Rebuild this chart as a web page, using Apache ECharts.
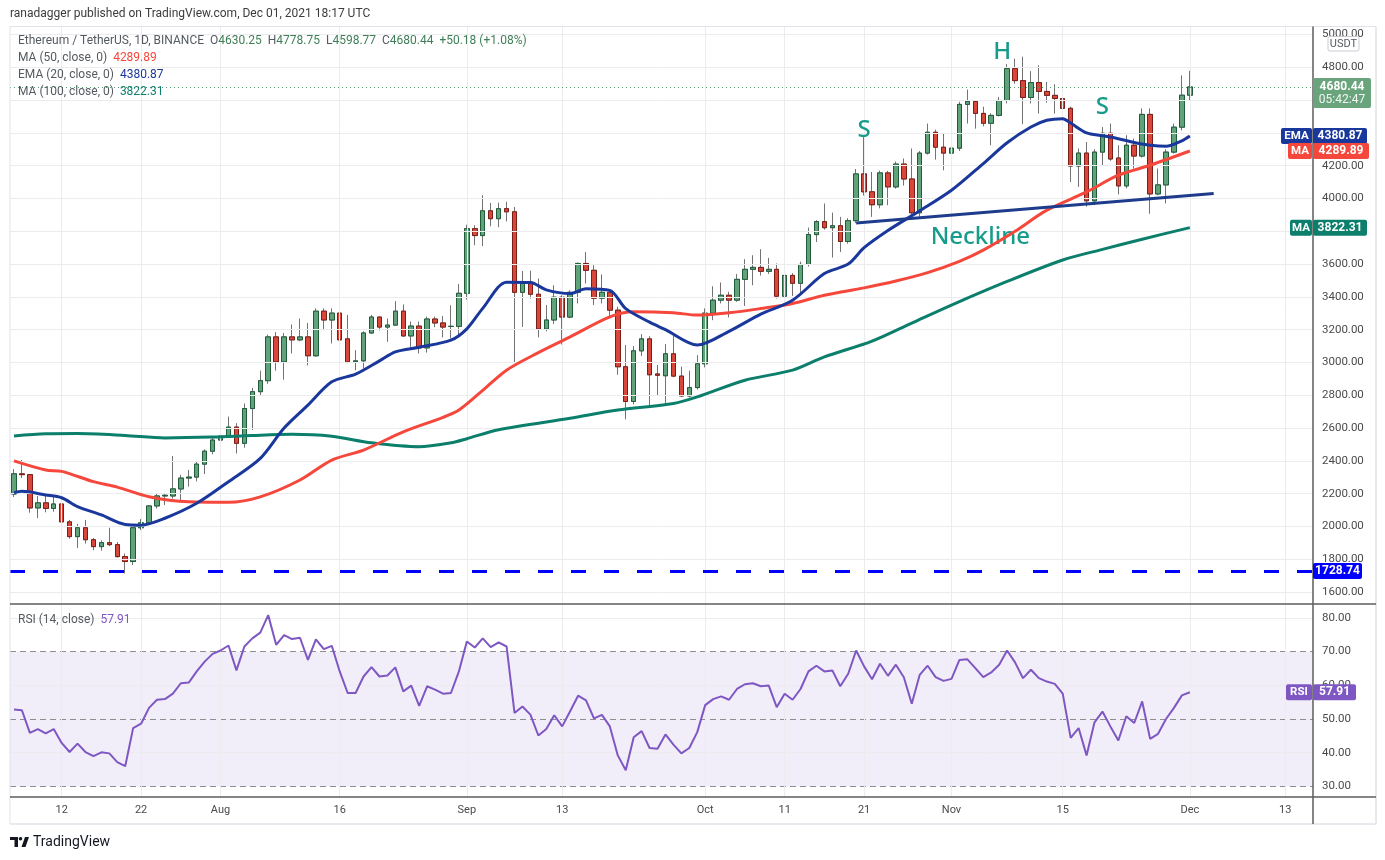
<!DOCTYPE html>
<html><head><meta charset="utf-8">
<script src="https://cdn.jsdelivr.net/npm/echarts@6.0.0/dist/echarts.min.js"></script>
<style>html,body{margin:0;padding:0;background:#fff}#c{width:1385px;height:860px}</style>
</head><body><div id="c"></div>
<script>
// ---------- DATA ----------
const firstDate = [2021, 6, 6];   // 2021-07-06
const lastAxisDate = [2021, 11, 16]; // 2021-12-16
const opens = [
2198,2321,2316,2113,2144,2110,2137,2028,1938,1992,1919,1877,1901,1889,1816,1786,1992,2022,2125,2186,2186,2229,2295,2301,2380,2459,
2527,2551,2606,2507,2719,2822,2889,3156,3004,3156,3138,3156,3041,3313,3259,3301,3144,3004,3010,3180,3277,3216,3228,3313,3162,3222,3089,3265,3241,3220,3220,
3422,3816,3774,3925,3877,3938,3919,3428,3489,3416,3204,3259,3398,3277,3428,3604,3562,3392,3428,3319,2974,2762,3071,3144,2930,2919,3053,2917,2796,2847,
2992,3301,3380,3410,3380,3507,3568,3580,3556,3568,3404,3531,3483,3598,3780,3859,3822,3834,3738,3865,4150,4041,3962,4156,4071,4210,4119,3913,4277,4404,4313,
4277,4307,4574,4592,4519,4459,4507,4598,4792,4719,4616,4707,4653,4629,4610,4550,4198,4277,3986,4283,4398,4247,4077,4325,4259,4513,4028,4083,4283,4435,
4630.25];
const highs = [
2350,2405,2320,2185,2195,2180,2170,2040,2015,2040,1930,1915,1992,1905,1835,2015,2045,2130,2200,2200,2430,2315,2345,2400,2470,2550,
2700,2670,2630,2750,2845,2950,3170,3185,3180,3232,3268,3241,3330,3330,3330,3340,3290,3075,3190,3290,3280,3268,3374,3354,3250,3250,3280,3280,3283,3349,3478,
3840,3837,4020,3973,3975,3980,3949,3558,3560,3512,3350,3471,3410,3440,3610,3674,3593,3537,3445,3340,3106,3100,3173,3160,2985,3112,3161,2974,2950,3045,
3330,3465,3488,3431,3540,3630,3654,3691,3638,3604,3624,3545,3615,3823,3868,3970,3914,3888,3880,4180,4375,4162,4170,4168,4225,4244,4305,4290,4457,4420,4396,
4375,4590,4664,4600,4560,4520,4620,4820,4853,4865,4777,4812,4711,4697,4772,4560,4305,4345,4300,4436,4457,4325,4386,4365,4549,4549,4183,4300,4457,4751,
4778.75];
const lows = [
2180,2295,2084,2051,2086,2090,2010,1925,1868,1895,1855,1852,1880,1810,1713,1765,1978,2015,2110,2130,2170,2150,2243,2275,2320,2440,
2513,2540,2445,2480,2588,2800,2870,2950,2895,3055,3130,2982,3035,3197,3116,3130,2995,2953,2964,3175,3195,3126,3225,3155,3086,3055,3060,3215,3153,3146,3160,
3384,3715,3710,3831,3825,3860,3002,3217,3390,3153,3190,3235,3110,3270,3360,3482,3350,3360,3278,2925,2653,2745,3039,2734,2800,2740,2910,2790,2787,2835,
2970,3258,3360,3275,3370,3345,3471,3530,3540,3390,3380,3406,3420,3585,3735,3810,3640,3674,3725,3850,4018,3888,3940,3959,4060,4079,3900,3890,4268,4237,4172,
4152,4290,4457,4426,4440,4325,4500,4580,4700,4453,4580,4518,4585,4518,4545,4101,4071,3950,3960,4203,4230,4025,4061,4182,4250,3907,4020,3970,4274,4415,
4598.77];
const closes = [
2321,2316,2113,2144,2110,2137,2028,1938,1992,1919,1877,1901,1889,1816,1786,1992,2022,2125,2186,2190,2229,2295,2301,2380,2459,2527,
2551,2606,2507,2719,2822,2889,3156,3004,3156,3138,3156,3041,3313,3259,3301,3138,3004,3010,3180,3277,3216,3228,3313,3162,3222,3089,3265,3241,3216,3220,3422,
3816,3774,3925,3877,3938,3919,3428,3489,3416,3204,3259,3398,3277,3428,3604,3562,3392,3428,3319,2974,2762,3071,3144,2925,2922,3053,2917,2796,2847,2992,
3301,3380,3410,3380,3507,3568,3580,3556,3568,3404,3531,3483,3598,3780,3859,3822,3834,3738,3865,4150,4041,3962,4156,4071,4210,4119,3913,4277,4404,4313,4277,
4307,4574,4592,4519,4459,4507,4598,4792,4719,4616,4707,4653,4629,4610,4550,4198,4277,3986,4283,4398,4241,4077,4325,4259,4513,4028,4083,4283,4435,4630,
4680.44];
const rsiValues = [
52.8,52.6,45.9,47.0,45.7,47.0,42.9,40.2,42.7,40.2,39.0,40.1,39.8,37.2,36.0,47.3,48.6,53.3,55.7,55.9,57.5,60.6,60.8,64.1,67.0,69.3,
70.3,71.8,64.4,71.5,73.9,75.6,80.8,72.0,74.9,73.7,74.1,67.5,73.6,70.7,71.7,64.1,57.7,57.7,62.6,65.4,62.6,62.9,65.3,58.2,59.9,53.9,59.7,58.7,57.5,57.7,64.1,
73.0,71.2,73.9,71.3,72.7,71.5,51.8,53.7,51.3,45.1,47.0,51.1,47.8,52.3,56.9,55.5,50.2,51.2,47.8,39.2,34.8,44.6,46.4,41.4,41.2,45.4,42.4,39.8,41.4,46.1,
54.1,55.9,56.7,55.7,58.9,60.3,60.6,59.7,59.9,53.5,57.5,55.7,58.9,64.1,65.8,64.1,64.4,59.7,63.4,70.3,65.6,61.8,66.4,62.8,66.1,62.4,54.5,63.1,65.8,62.4,61.3,
61.9,67.5,67.7,65.1,62.4,63.8,66.1,70.3,66.8,62.1,64.6,62.1,61.1,60.4,57.5,44.4,47.3,39.2,49.0,52.2,47.8,43.6,50.8,48.8,55.2,44.1,45.6,50.0,53.3,57.0,
57.91];
const ema20Pts = [['2021-07-06',2205],['2021-07-07',2214],['2021-07-10',2192],['2021-07-12',2175],['2021-07-14',2121],['2021-07-17',2070],['2021-07-20',2012],['2021-07-22',2008],['2021-07-25',2050],['2021-07-29',2141],['2021-08-02',2273],['2021-08-06',2415],['2021-08-09',2600],['2021-08-12',2740],['2021-08-15',2882],['2021-08-18',2929],['2021-08-21',3010],['2021-08-23',3065],['2021-08-26',3093],['2021-08-30',3136],['2021-09-01',3205],['2021-09-03',3330],['2021-09-06',3490],['2021-09-09',3488],['2021-09-11',3443],['2021-09-14',3420],['2021-09-16',3450],['2021-09-19',3440],['2021-09-21',3328],['2021-09-24',3246],['2021-09-26',3200],['2021-09-30',3106],['2021-10-04',3190],['2021-10-08',3295],['2021-10-12',3380],['2021-10-16',3542],['2021-10-19',3600],['2021-10-21',3700],['2021-10-24',3805],['2021-10-28',3925],['2021-11-01',4050],['2021-11-05',4213],['2021-11-08',4340],['2021-11-11',4436],['2021-11-13',4477],['2021-11-15',4487],['2021-11-16',4460],['2021-11-18',4400],['2021-11-20',4383],['2021-11-22',4365],['2021-11-24',4342],['2021-11-26',4325],['2021-11-28',4318],['2021-11-30',4352],['2021-12-01',4380.87]];
const ma50Pts = [['2021-07-06',2400],['2021-07-10',2344],['2021-07-12',2336],['2021-07-16',2273],['2021-07-19',2240],['2021-07-23',2181],['2021-07-28',2150],['2021-08-02',2147],['2021-08-06',2180],['2021-08-11',2283],['2021-08-15',2405],['2021-08-19',2466],['2021-08-24',2577],['2021-08-29',2665],['2021-08-31',2710],['2021-09-03',2830],['2021-09-06',2953],['2021-09-10',3060],['2021-09-14',3156],['2021-09-19',3278],['2021-09-22',3309],['2021-09-27',3303],['2021-09-30',3289],['2021-10-04',3303],['2021-10-08',3329],['2021-10-12',3360],['2021-10-16',3410],['2021-10-21',3455],['2021-10-25',3497],['2021-10-29',3548],['2021-11-02',3617],['2021-11-05',3685],['2021-11-09',3800],['2021-11-13',3929],['2021-11-18',4040],['2021-11-22',4142],['2021-11-26',4203],['2021-12-01',4289.89]];
const ma100Pts = [['2021-07-06',2552],['2021-07-10',2565],['2021-07-14',2567],['2021-07-20',2555],['2021-07-25',2540],['2021-07-31',2545],['2021-08-05',2555],['2021-08-10',2562],['2021-08-15',2550],['2021-08-20',2510],['2021-08-26',2486],['2021-08-30',2510],['2021-09-01',2535],['2021-09-05',2590],['2021-09-14',2660],['2021-09-20',2710],['2021-09-27',2750],['2021-09-30',2790],['2021-10-06',2892],['2021-10-12',2953],['2021-10-16',3034],['2021-10-22',3130],['2021-10-27',3240],['2021-11-01',3350],['2021-11-08',3494],['2021-11-15',3625],['2021-11-20',3690],['2021-11-25',3752],['2021-12-01',3822.31]];
const necklinePts = [['2021-10-20',3851],['2021-12-04',4030]];
const supportLevel = 1728.74;
const lastPrice = 4680.44;
const lastEma = 4380.87, lastMa50 = 4289.89, lastMa100 = 3822.31, lastRsi = 57.91;
const tickDates = ['2021-07-12','2021-07-22','2021-08-01','2021-08-16','2021-09-01','2021-09-13','2021-10-01','2021-10-11','2021-10-21','2021-11-01','2021-11-15','2021-12-01','2021-12-13'];
const tickLabels = ['12','22','Aug','16','Sep','13','Oct','11','21','Nov','15','Dec','13'];
const priceTicks = [1600,1800,2000,2200,2400,2600,2800,3000,3200,3400,3600,3800,4000,4200,4400,4600,4800,5000];
const rsiTicks = [30,40,50,60,70,80];
const rsiDashed = [30,50,70];
const annotations = [
  {date:'2021-10-21', price:4418, text:'S', dx:0},
  {date:'2021-11-07', price:4893, text:'H', dx:3},
  {date:'2021-11-20', price:4560, text:'S', dx:0},
  {date:'2021-11-04', price:3765, text:'Neckline', dx:5}
];

// ---------- BUILD ----------
const cats = [];
for (let t = Date.UTC(...firstDate); t <= Date.UTC(...lastAxisDate); t += 864e5) cats.push(new Date(t).toISOString().slice(0,10));
const labelMap = {}; tickDates.forEach((d,i)=>labelMap[d]=tickLabels[i]);
const tickSet = new Set(tickDates);

const wickData = closes.map((c,i)=>[opens[i], c, lows[i], highs[i]]);
const bodyData = closes.map((c,i)=>[opens[i], c, Math.min(opens[i],c), Math.max(opens[i],c)]);

const FONT = 'Roboto, "Noto Sans", sans-serif';
const GRID_C = '#ececee';
const UP = '#62a27b', UPB = '#1f5c3a', DN = '#d9473a', DNB = '#7c1d16';
const C_EMA = '#1a389c', C_MA50 = '#f5473b', C_MA100 = '#0b7f6c', C_RSI = '#7e57c2', C_NOTE = '#179b8a';

const chart = echarts.init(document.getElementById('c'), null, {width:1385, height:860});

const vLines = tickDates.map(d => ({xAxis: d}));
const option = {
  animation: false,
  backgroundColor: '#ffffff',
  grid: [
    {left:10, right:72, top:27, height:577, outerBoundsMode:'none'},
    {left:10, right:72, top:604, height:193, outerBoundsMode:'none'}
  ],
  xAxis: [
    {type:'category', gridIndex:0, data:cats, boundaryGap:true, axisLine:{show:false}, axisTick:{show:false}, axisLabel:{show:false}, splitLine:{show:false}},
    {type:'category', gridIndex:1, data:cats, boundaryGap:true, axisLine:{show:false}, axisTick:{show:false}, splitLine:{show:false},
     axisLabel:{show:true, interval:(i,v)=>tickSet.has(v), formatter:v=>labelMap[v]||'', color:'#4a4a4a', fontSize:11, fontFamily:FONT, margin:8}}
  ],
  yAxis: [
    {type:'value', gridIndex:0, position:'right', min:1527, max:5046, axisLine:{show:false}, axisTick:{show:false}, axisLabel:{show:false}, splitLine:{show:false}},
    {type:'value', gridIndex:1, position:'right', min:26.86, max:84.1, axisLine:{show:false}, axisTick:{show:false}, axisLabel:{show:false}, splitLine:{show:false}}
  ],
  series: [
    {type:'line', xAxisIndex:0, yAxisIndex:0, data:[], silent:true, z:1,
     markLine:{silent:true, symbol:['none','none'], animation:false,
       lineStyle:{color:GRID_C, width:1, type:'solid'},
       label:{show:true, position:'end', distance:9, color:'#4a4a4a', fontSize:11.5, fontFamily:FONT, formatter:p=>Number(p.value).toFixed(2)},
       data: priceTicks.map(v=>({yAxis:v})).concat(vLines.map(o=>Object.assign({label:{show:false}}, o)))}},
    {type:'line', xAxisIndex:1, yAxisIndex:1, data:[], silent:true, z:1,
     markLine:{silent:true, symbol:['none','none'], animation:false,
       lineStyle:{color:GRID_C, width:1, type:'solid'},
       label:{show:true, position:'end', distance:9, color:'#4a4a4a', fontSize:11.5, fontFamily:FONT, formatter:p=>Number(p.value).toFixed(2)},
       data: rsiTicks.map(v=>rsiDashed.includes(v) ? {yAxis:v, lineStyle:{color:'#8e8e8e', width:1, type:[6,4]}} : {yAxis:v})
         .concat(vLines.map(o=>Object.assign({label:{show:false}}, o)))}},
    {type:'candlestick', name:'wick', xAxisIndex:0, yAxisIndex:0, data:wickData, barWidth:5, z:3, silent:true,
     itemStyle:{color:'rgba(0,0,0,0)', color0:'rgba(0,0,0,0)', borderColor:'#737373', borderColor0:'#737373', borderColorDoji:'#737373', borderWidth:1}},
    {type:'candlestick', name:'ETHUSDT', xAxisIndex:0, yAxisIndex:0, data:bodyData, barWidth:5, z:4, silent:true,
     itemStyle:{color:UP, color0:DN, borderColor:UPB, borderColor0:DNB, borderColorDoji:UPB, borderWidth:1},
     markLine:{silent:true, symbol:['none','none'], animation:false, label:{show:false},
       data:[
         {yAxis:supportLevel, lineStyle:{color:'#0000ff', width:3, type:[15,18]}},
         {yAxis:lastPrice, lineStyle:{color:'#5a9a72', width:1, type:[1,3]}}
       ]},
     markPoint:{silent:true, animation:false, symbol:'circle', symbolSize:1, itemStyle:{color:'rgba(0,0,0,0)'},
       data: annotations.map(a=>({coord:[a.date, a.price], value:a.text,
         label:{show:true, position:'inside', formatter:a.text, color:C_NOTE, fontSize:24, fontWeight:500, fontFamily:'"Noto Sans", sans-serif', offset:[a.dx,0]}}))}},
    {type:'line', name:'MA100', xAxisIndex:0, yAxisIndex:0, data:ma100Pts, smooth:0.3, symbol:'none', z:5, silent:true, lineStyle:{color:C_MA100, width:3}},
    {type:'line', name:'MA50', xAxisIndex:0, yAxisIndex:0, data:ma50Pts, smooth:0.3, symbol:'none', z:5, silent:true, lineStyle:{color:C_MA50, width:3}},
    {type:'line', name:'EMA20', xAxisIndex:0, yAxisIndex:0, data:ema20Pts, smooth:0.3, symbol:'none', z:6, silent:true, lineStyle:{color:C_EMA, width:3}},
    {type:'line', name:'Neckline', xAxisIndex:0, yAxisIndex:0, data:necklinePts, symbol:'none', z:6, silent:true, lineStyle:{color:'#1e3c8c', width:3}},
    {type:'line', name:'RSI', xAxisIndex:1, yAxisIndex:1, data:rsiValues, symbol:'none', z:5, silent:true, lineStyle:{color:C_RSI, width:2},
     markArea:{silent:true, itemStyle:{color:'rgba(126,87,194,0.10)'}, data:[[{yAxis:30},{yAxis:70}]]}}
  ]
};
chart.setOption(option);

// ---------- DECORATIONS (positions from the library's scales) ----------
const yP = v => chart.convertToPixel({yAxisIndex:0}, v);
const yR = v => chart.convertToPixel({yAxisIndex:1}, v);
const AX = 1313;
function rect(x, y, w, h, fill, extra) { return Object.assign({type:'rect', z:100, shape:{x, y, width:w, height:h, r:2}, style:{fill}}, extra||{}); }
function txt(x, y, text, fill, font, align) { return {type:'text', z:101, style:{text, x, y, fill, font, textAlign:align||'center', align:align||'center', textVerticalAlign:'middle', verticalAlign:'middle'}}; }
function tag(yc, w, fill, valText, name, nameW) {
  const h = 16, els = [];
  if (name) { els.push(rect(AX-nameW-1, yc-h/2, nameW, h, fill)); els.push(txt(AX-1-nameW/2, yc, name, '#fff', 'bold 11.5px ' + FONT)); }
  els.push(rect(AX, yc-h/2, w, h, fill));
  els.push(txt(AX + w/2, yc, valText, '#fff', 'bold 12px ' + FONT));
  return els;
}
const g = [];
const line = (x1,y1,x2,y2,stroke,w) => ({type:'line', z:90, shape:{x1,y1,x2,y2}, style:{stroke, lineWidth:w}});
g.push(line(10,26.5,1376,26.5,'#e0e3eb',1));
g.push(line(10,26.5,10,824,'#e0e3eb',1));
g.push(line(1376,26.5,1376,824,'#e9e9ee',2));
g.push(line(10,824,1376,824,'#e0e3eb',1.5));
g.push(line(10,604,1376,604,'#5c5c5c',1.5));
g.push(line(10,797,1376,797,'#5c5c5c',1.5));
g.push(line(AX,26.5,AX,824,'#5c5c5c',1.5));
g.push({type:'text', z:101, style:{text:'ranadagger published on TradingView.com, Dec 01, 2021 18:17 UTC', x:10, y:14, fill:'#3c3c3c', font:'12px ' + FONT, textVerticalAlign:'middle', verticalAlign:'middle'}});
function rich(x, y, parts) {
  let text = '', r = {};
  parts.forEach((p,i)=>{ const k = 'p'+i; text += '{'+k+'|'+p[0]+'}'; r[k] = {fill:p[1], color:p[1], font:'12px '+FONT, fontSize:12, fontFamily:FONT}; });
  return {type:'text', z:101, style:{text, x, y, rich:r, font:'12px '+FONT, textVerticalAlign:'middle', verticalAlign:'middle'}};
}
const GR = '#555a60', GV = '#3f7f57';
g.push(rich(18, 41, [['Ethereum / TetherUS, 1D, BINANCE  ',GR],['O',GR],['4630.25  ',GV],['H',GR],['4778.75  ',GV],['L',GR],['4598.77  ',GV],['C',GR],['4680.44  ',GV],['+50.18 (+1.08%)',GV]]));
g.push(rich(18, 58, [['MA (50, close, 0)  ',GR],['4289.89',C_MA50]]));
g.push(rich(18, 75, [['EMA (20, close, 0)  ',GR],['4380.87',C_EMA]]));
g.push(rich(18, 92, [['MA (100, close, 0)  ',GR],['3822.31',C_MA100]]));
g.push(rich(18, 620, [['RSI (14, close)  ',GR],['57.91',C_RSI]]));
g.push(rect(1328, 36.5, 31, 14.5, '#ffffff', {style:{fill:'#ffffff', stroke:'#c9cbd1', lineWidth:1}}));
g.push(txt(1343.5, 43.8, 'USDT', '#555a60', '11px ' + FONT));
const py = yP(lastPrice);
g.push(rect(AX, py-9, 58, 30, '#69a47d'));
g.push(txt(AX+29, py, lastPrice.toFixed(2), '#fff', 'bold 12px ' + FONT));
g.push(txt(AX+29, py+13, '05:42:47', '#f2f7f3', '12px ' + FONT));
tag(yP(lastEma), 54, C_EMA, lastEma.toFixed(2), 'EMA', 31).forEach(e=>g.push(e));
tag(yP(lastMa50), 56, C_MA50, lastMa50.toFixed(2), 'MA', 24).forEach(e=>g.push(e));
tag(yP(lastMa100), 54, C_MA100, lastMa100.toFixed(2), 'MA', 22).forEach(e=>g.push(e));
tag(yP(supportLevel), 49, '#0000ff', supportLevel.toFixed(2)).forEach(e=>g.push(e));
tag(yR(lastRsi), 43, C_RSI, lastRsi.toFixed(2), 'RSI', 26).forEach(e=>g.push(e));
g.push({type:'polygon', z:101, shape:{points:[[10,837],[18,837],[18,847],[14.5,847],[14.5,840],[10,840]]}, style:{fill:'#131722'}});
g.push({type:'circle', z:101, shape:{cx:20.5, cy:838.8, r:1.8}, style:{fill:'#131722'}});
g.push({type:'polygon', z:101, shape:{points:[[25,837],[29,837],[25.5,847],[21.5,847]]}, style:{fill:'#131722'}});
g.push({type:'text', z:101, style:{text:'TradingView', x:33, y:842, fill:'#131722', font:'14px ' + FONT, textVerticalAlign:'middle', verticalAlign:'middle'}});

chart.setOption({graphic: g});
</script>
</body></html>
